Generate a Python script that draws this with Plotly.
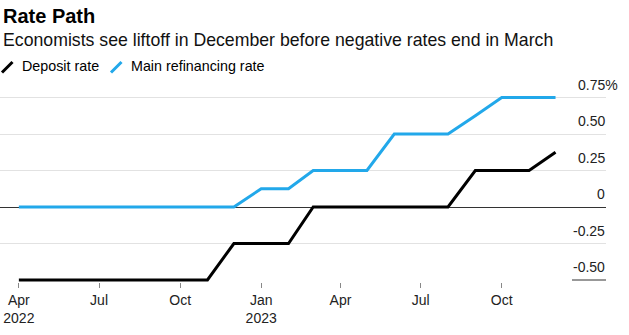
import plotly.graph_objects as go

# ---- data (monthly, first of month) ----
dates = ["2022-04-01", "2022-05-01", "2022-06-01", "2022-07-01", "2022-08-01",
         "2022-09-01", "2022-10-01", "2022-11-01", "2022-12-01", "2023-01-01",
         "2023-02-01", "2023-03-01", "2023-04-01", "2023-05-01", "2023-06-01",
         "2023-07-01", "2023-08-01", "2023-09-01", "2023-10-01", "2023-11-01",
         "2023-12-01"]
deposit_rate = [-0.5, -0.5, -0.5, -0.5, -0.5, -0.5, -0.5, -0.5, -0.25, -0.25,
                -0.25, 0.0, 0.0, 0.0, 0.0, 0.0, 0.0, 0.25, 0.25, 0.25, 0.375]
main_refi_rate = [0.0, 0.0, 0.0, 0.0, 0.0, 0.0, 0.0, 0.0, 0.0, 0.125,
                  0.125, 0.25, 0.25, 0.25, 0.5, 0.5, 0.5, 0.625, 0.75, 0.75, 0.75]
series_names = ["Deposit rate", "Main refinancing rate"]

x_tick_dates = ["2022-04-01", "2022-07-01", "2022-10-01", "2023-01-01",
                "2023-04-01", "2023-07-01", "2023-10-01"]
x_tick_labels = ["Apr<br>2022", "Jul", "Oct", "Jan<br>2023", "Apr", "Jul", "Oct"]
y_tick_values = [0.75, 0.5, 0.25, 0, -0.25, -0.5]
y_tick_labels = ["0.75%", "0.50", "0.25", "0", "-0.25", "-0.50"]

title = "Rate Path"
subtitle = "Economists see liftoff in December before negative rates end in March"

# ---- styling ----
FONT = "Liberation Sans, Arial, sans-serif"
BLACK = "#000000"
BLUE = "#22A8EA"
W, H = 629, 335
ML, MR, MT, MB = 0, 23, 90, 53
PW = W - ML - MR
PH = H - MT - MB


def px_x(px):
    return (px - ML) / PW


def px_y(py):
    return (H - MB - py) / PH


fig = go.Figure()
fig.add_trace(go.Scatter(x=dates, y=main_refi_rate, mode="lines", name=series_names[1],
                         line=dict(color=BLUE, width=3), showlegend=False))
fig.add_trace(go.Scatter(x=dates, y=deposit_rate, mode="lines", name=series_names[0],
                         line=dict(color=BLACK, width=3), showlegend=False))

annotations = []
# title & subtitle
annotations.append(dict(text="<b>%s</b>" % title, x=px_x(1), y=px_y(29), xref="paper", yref="paper",
                        xanchor="left", yanchor="bottom", showarrow=False,
                        font=dict(family=FONT, size=20, color="#000")))
annotations.append(dict(text=subtitle, x=px_x(1), y=px_y(52), xref="paper", yref="paper",
                        xanchor="left", yanchor="bottom", showarrow=False,
                        font=dict(family=FONT, size=17.7, color="#111")))
# legend
legend_text_x = [19.5, 128.5]
legend_slash_x = [2, 111]
legend_colors = [BLACK, BLUE]
shapes = []
for name, tx, sx, col in zip(series_names, legend_text_x, legend_slash_x, legend_colors):
    annotations.append(dict(text=name, x=px_x(tx), y=px_y(75.5), xref="paper", yref="paper",
                            xanchor="left", yanchor="bottom", showarrow=False,
                            font=dict(family=FONT, size=14.3, color="#000")))
    shapes.append(dict(type="line", xref="paper", yref="paper",
                       x0=px_x(sx), x1=px_x(sx + 10.5), y0=px_y(72.5), y1=px_y(62),
                       line=dict(color=col, width=3)))

# y tick labels above gridlines, right aligned; "%" hangs past the edge
for v, t in zip(y_tick_values, y_tick_labels):
    shift = 12.5 if t.endswith("%") else 0
    annotations.append(dict(text=t, x=1, xref="paper", y=v, yref="y",
                            xanchor="right", yanchor="bottom", xshift=1 + shift, yshift=3,
                            showarrow=False, font=dict(family=FONT, size=14, color="#222")))

# short baseline segment under the bottom label
shapes.append(dict(type="line", xref="x domain", yref="y", x0=px_x(572), x1=1,
                   y0=y_tick_values[-1], y1=y_tick_values[-1],
                   line=dict(color="#333", width=1), layer="below"))

fig.update_layout(
    width=W, height=H,
    margin=dict(l=ML, r=MR, t=MT, b=MB, pad=0),
    paper_bgcolor="white", plot_bgcolor="white",
    font=dict(family=FONT, size=14, color="#222"),
    annotations=annotations, shapes=shapes,
    xaxis=dict(type="date", range=["2022-03-10 14:00", "2024-01-27 07:00"],
               tickmode="array", tickvals=x_tick_dates, ticktext=x_tick_labels,
               ticks="outside", ticklen=5, tickwidth=1, tickcolor="#888",
               showgrid=False, showline=False, zeroline=False,
               tickfont=dict(family=FONT, size=14, color="#222")),
    yaxis=dict(range=[-0.5137, 0.8014], tickmode="array", tickvals=y_tick_values[:-1],
               showticklabels=False, showgrid=True, gridcolor="#e2e2e2", gridwidth=1,
               zeroline=True, zerolinecolor="#333", zerolinewidth=1, showline=False,
               ticks=""),
    showlegend=False,
)

fig.write_html("out.html")
